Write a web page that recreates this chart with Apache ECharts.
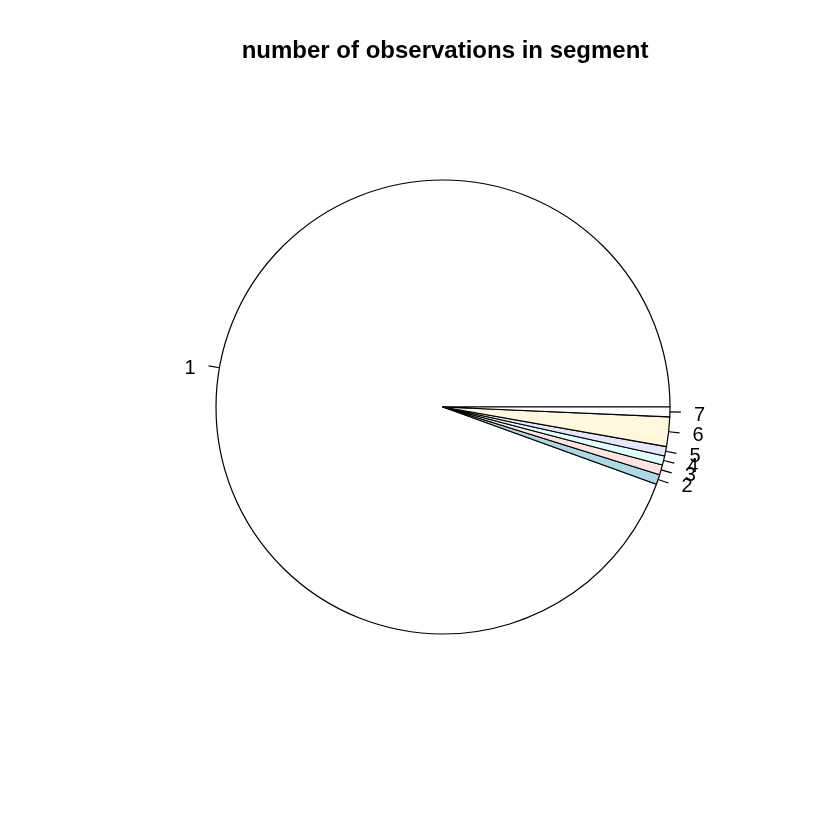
<!DOCTYPE html>
<html>
<head>
<meta charset="utf-8">
<title>number of observations in segment</title>
<script src="https://cdn.jsdelivr.net/npm/echarts@6/dist/echarts.min.js"></script>
<style>
  html, body { margin: 0; padding: 0; background: #ffffff; }
  #chart { width: 840px; height: 840px; }
</style>
</head>
<body>
<div id="chart"></div>
<script>
const segments = ['1', '2', '3', '4', '5', '6', '7'];
const counts = [9447, 71, 71, 65, 67, 210, 69];
// R's default pie palette, recycled
const sliceColors = ['#ffffff', '#add8e6', '#ffe4e1', '#e0ffff', '#e6e6fa', '#fff8dc', '#ffffff'];

document.addEventListener('DOMContentLoaded', () => {
  const chart = echarts.init(document.getElementById('chart'), null, { renderer: 'canvas' });
  const fontFamily = '"Liberation Sans", Arial, Helvetica, sans-serif';

  const option = {
    backgroundColor: '#ffffff',
    animation: false,
    title: {
      text: 'number of observations in segment',
      left: 440,
      top: 34,
      textAlign: 'center',
      textStyle: { fontFamily, fontSize: 24, fontWeight: 'bold', color: '#000000' }
    },
    series: [{
      type: 'pie',
      center: [443, 407],
      radius: 227,
      startAngle: 0,
      clockwise: false,
      avoidLabelOverlap: false,
      minShowLabelAngle: 0,
      labelLayout: { hideOverlap: false, dy: 3 },
      data: segments.map((name, i) => ({
        name,
        value: counts[i],
        itemStyle: { color: sliceColors[i] }
      })),
      itemStyle: { borderColor: '#000000', borderWidth: 1.2 },
      label: {
        show: true,
        position: 'outside',
        formatter: '{b}',
        fontFamily,
        fontSize: 20,
        color: '#000000',
        padding: [0, 8, 0, 8]
      },
      labelLine: {
        show: true,
        length: 11,
        length2: 0,
        smooth: false,
        lineStyle: { color: '#000000', width: 1.2 }
      },
      emphasis: { disabled: true }
    }]
  };

  chart.setOption(option);
  window.addEventListener('resize', () => chart.resize());
});
</script>
</body>
</html>
